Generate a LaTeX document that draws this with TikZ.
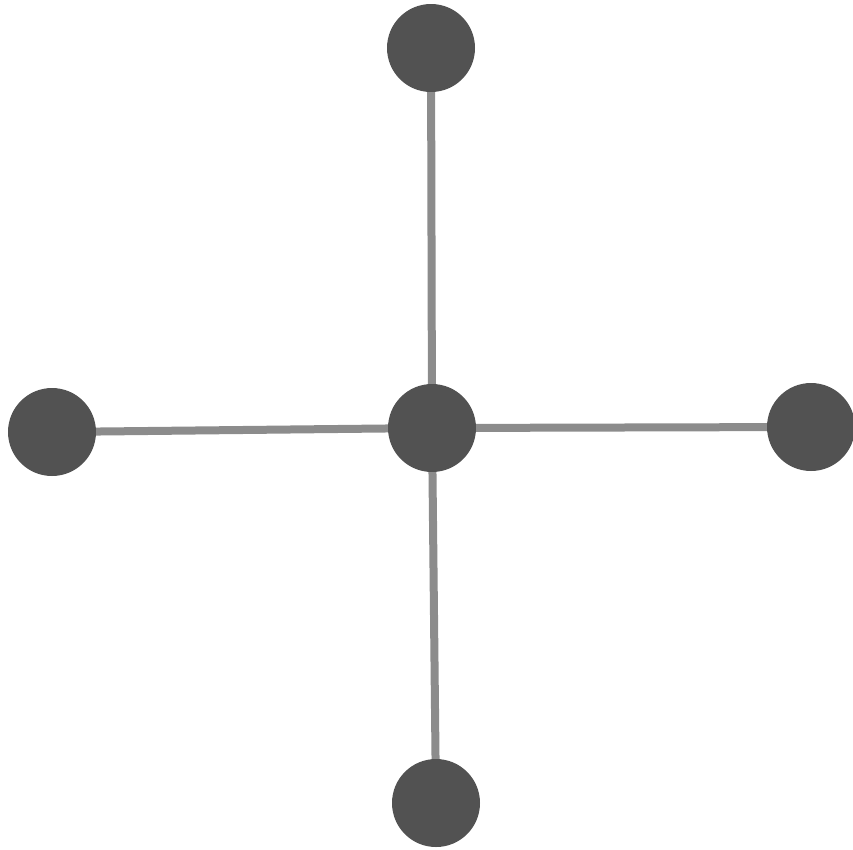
\documentclass[tikz,border=0pt]{standalone}
\begin{document}
\begin{tikzpicture}[x=1pt,y=-1pt,
  vertex/.style={circle,fill=black!68,draw=none,minimum size=88pt,inner sep=0pt},
  edge/.style={draw=black!45,line width=8pt}]
\useasboundingbox (0,0) rectangle (853,849);
\node[vertex] (c) at (432,428) {};
\node[vertex] (t) at (431,48) {};
\node[vertex] (l) at (52,432) {};
\node[vertex] (r) at (811,427) {};
\node[vertex] (b) at (436,803) {};
\draw[edge] (c) -- (t);
\draw[edge] (c) -- (l);
\draw[edge] (c) -- (r);
\draw[edge] (c) -- (b);
\end{tikzpicture}
\end{document}
